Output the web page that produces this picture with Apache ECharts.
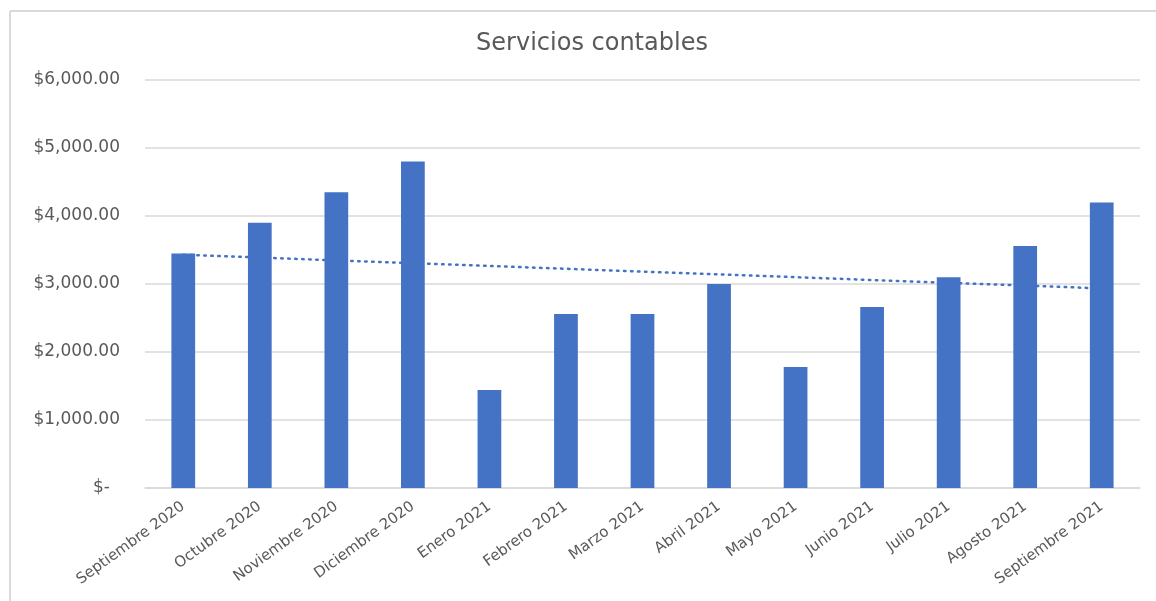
<!DOCTYPE html>
<html>
<head>
<meta charset="utf-8">
<script src="https://cdn.jsdelivr.net/npm/echarts@6/dist/echarts.min.js"></script>
<style>
html,body{margin:0;padding:0;background:#fff;overflow:hidden;}
#chart{width:1156px;height:601px;}
</style>
</head>
<body>
<div id="chart"></div>
<script>
const title = 'Servicios contables';
const categories = ['Septiembre 2020','Octubre 2020','Noviembre 2020','Diciembre 2020','Enero 2021','Febrero 2021','Marzo 2021','Abril 2021','Mayo 2021','Junio 2021','Julio 2021','Agosto 2021','Septiembre 2021'];
const values = [3450, 3900, 4350, 4800, 1440, 2560, 2560, 3000, 1780, 2660, 3100, 3560, 4200];
// linear trendline endpoints
const trendStart = 3430;
const trendEnd = 2935;
const yTicks = [0, 1000, 2000, 3000, 4000, 5000, 6000];

const trendData = categories.map((c, i) => i === 0 ? trendStart : (i === categories.length - 1 ? trendEnd : null));

function fmt(v) {
  if (v === 0) return '{z|$-}';
  return '$' + v.toLocaleString('en-US', {minimumFractionDigits: 2, maximumFractionDigits: 2});
}

const chart = echarts.init(document.getElementById('chart'));
chart.setOption({
  animation: false,
  backgroundColor: '#ffffff',
  title: {
    text: title,
    left: 587,
    top: 27,
    textAlign: 'center',
    textStyle: {fontFamily: 'DejaVu Sans', fontSize: 24, fontWeight: 'normal', color: '#595959'}
  },
  graphic: [
    {type: 'line', shape: {x1: 10, y1: 11, x2: 1156, y2: 11}, style: {stroke: '#d9d9d9', lineWidth: 2}, silent: true},
    {type: 'line', shape: {x1: 10, y1: 11, x2: 10, y2: 601}, style: {stroke: '#d9d9d9', lineWidth: 2}, silent: true}
  ],
  grid: {left: 145, right: 16, top: 80, bottom: 113, containLabel: false},
  xAxis: {
    type: 'category',
    data: categories,
    axisTick: {show: false},
    axisLine: {lineStyle: {color: '#d9d9d9', width: 1.5}},
    axisLabel: {
      interval: 0,
      rotate: 36,
      margin: 17,
      color: '#595959',
      fontFamily: 'DejaVu Sans',
      fontSize: 15
    }
  },
  yAxis: {
    type: 'value',
    min: yTicks[0],
    max: yTicks[yTicks.length - 1],
    interval: 1000,
    axisLine: {show: false},
    axisTick: {show: false},
    splitLine: {lineStyle: {color: '#d9d9d9', width: 1.5}},
    axisLabel: {
      margin: 25,
      color: '#595959',
      fontFamily: 'DejaVu Sans',
      fontSize: 17,
      formatter: fmt,
      rich: {z: {padding: [0, 10, 0, 0], color: '#595959', fontFamily: 'DejaVu Sans', fontSize: 17}}
    }
  },
  series: [
    {
      type: 'line',
      data: trendData,
      connectNulls: true,
      symbol: 'none',
      z: 1,
      lineStyle: {color: '#4472C4', width: 2.5, type: [1.5, 5.5], cap: 'round'},
      silent: true
    },
    {
      type: 'bar',
      data: values,
      barWidth: '31%',
      z: 2,
      itemStyle: {color: '#4472C4'}
    }
  ]
});
</script>
</body>
</html>
